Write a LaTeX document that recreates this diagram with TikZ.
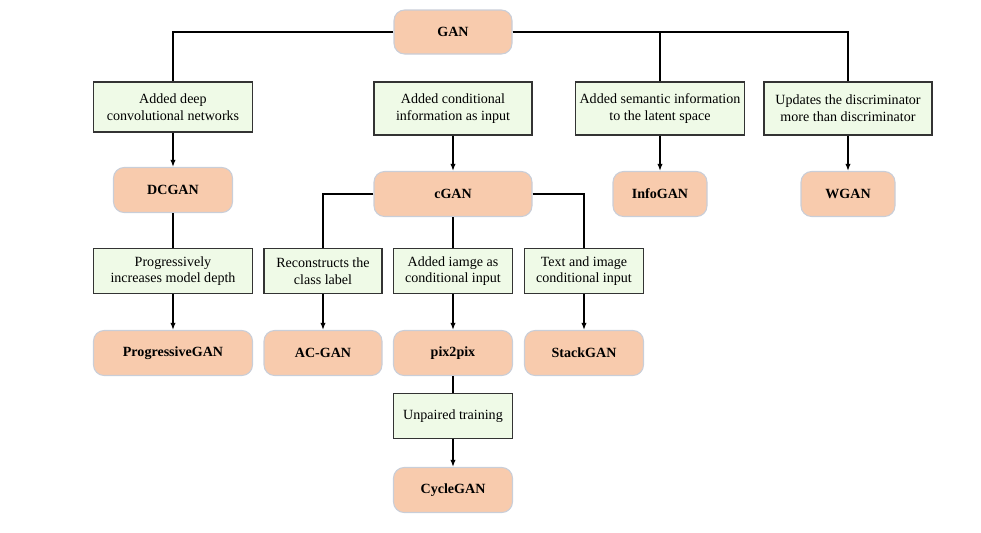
\documentclass[tikz,border=0pt]{standalone}
\usepackage{fontspec}
\setmainfont{Liberation Serif}
\usetikzlibrary{arrows.meta}

\definecolor{ganorange}{HTML}{F8CBAD}
\definecolor{ganedge}{HTML}{C9CED8}
\definecolor{stepgreen}{HTML}{EFFAE7}
\definecolor{stepedge}{HTML}{333333}

\begin{document}
\begin{tikzpicture}[x=0.02cm,y=-0.02cm,
    model/.style={draw=ganedge, fill=ganorange, line width=0.6pt, rounded corners=6pt,
      inner sep=0pt, minimum width=#1*0.02cm, minimum height=0.9cm,
      font=\fontsize{8}{9.5}\selectfont\bfseries},
    model/.default=119,
    change/.style={draw=stepedge, fill=stepgreen, line width=0.6pt, inner sep=0pt,
      align=center, minimum width=#1*0.02cm, minimum height=0.9cm,
      font=\fontsize{8}{9.5}\selectfont},
    change/.default=119,
    link/.style={line width=0.9pt},
    arrow/.style={line width=0.9pt, -{Latex[length=4pt,width=3pt]}}]

    \useasboundingbox (0,0) rectangle (981,532);

    % root
    \node[model=118, minimum height=0.88cm] (gan) at (453,32) {GAN};

    % first level changes
    \node[change=159, minimum height=1cm]  (deep)     at (173,107) {Added deep\\convolutional networks};
    \node[change=158, minimum height=1.06cm] (cond)   at (453,108.5) {Added conditional\\information as input};
    \node[change=169, minimum height=1.06cm] (semantic) at (660,108.5) {Added semantic information\\to the latent space};
    \node[change=168, minimum height=1.06cm] (updates) at (848,108.5) {Updates the discriminator\\more than discriminator};

    % first level models
    \node[model]     (dcgan)   at (173,190) {DCGAN};
    \node[model=158] (cgan)    at (453,194) {cGAN};
    \node[model=94]  (infogan) at (660,194) {InfoGAN};
    \node[model=94]  (wgan)    at (848,194) {WGAN};

    % second level changes
    \node[change=159] (progressively) at (173,271) {Progressively\\increases model depth};
    \node[change=118] (reconstruct)   at (323,271) {Reconstructs the\\class label};
    \node[change]     (iamge)         at (453,271) {Added iamge as\\conditional input};
    \node[change]     (textimg)       at (584,271) {Text and image\\conditional input};

    % second level models
    \node[model=159] (progan)   at (173,353) {ProgressiveGAN};
    \node[model=118] (acgan)    at (323,353) {AC-GAN};
    \node[model]     (pixpix)   at (453,353) {pix2pix};
    \node[model]     (stackgan) at (584,353) {StackGAN};

    % last level
    \node[change] (unpaired) at (453,416) {Unpaired training};
    \node[model]  (cyclegan) at (453,490) {CycleGAN};

    % connectors
    \draw[link] (gan.west) -| (deep.north);
    \draw[link] (gan.east) -| (semantic.north);
    \draw[link] (gan.east) -| (updates.north);

    \draw[arrow] (deep) -- (dcgan);
    \draw[arrow] (cond) -- (cgan);
    \draw[arrow] (semantic) -- (infogan);
    \draw[arrow] (updates) -- (wgan);

    \draw[link] (dcgan) -- (progressively);
    \draw[link] (cgan.west) -| (reconstruct.north);
    \draw[link] (cgan) -- (iamge);
    \draw[link] (cgan.east) -| (textimg.north);

    \draw[arrow] (progressively) -- (progan);
    \draw[arrow] (reconstruct) -- (acgan);
    \draw[arrow] (iamge) -- (pixpix);
    \draw[arrow] (textimg) -- (stackgan);

    \draw[link] (pixpix) -- (unpaired);
    \draw[arrow] (unpaired) -- (cyclegan);
\end{tikzpicture}
\end{document}
